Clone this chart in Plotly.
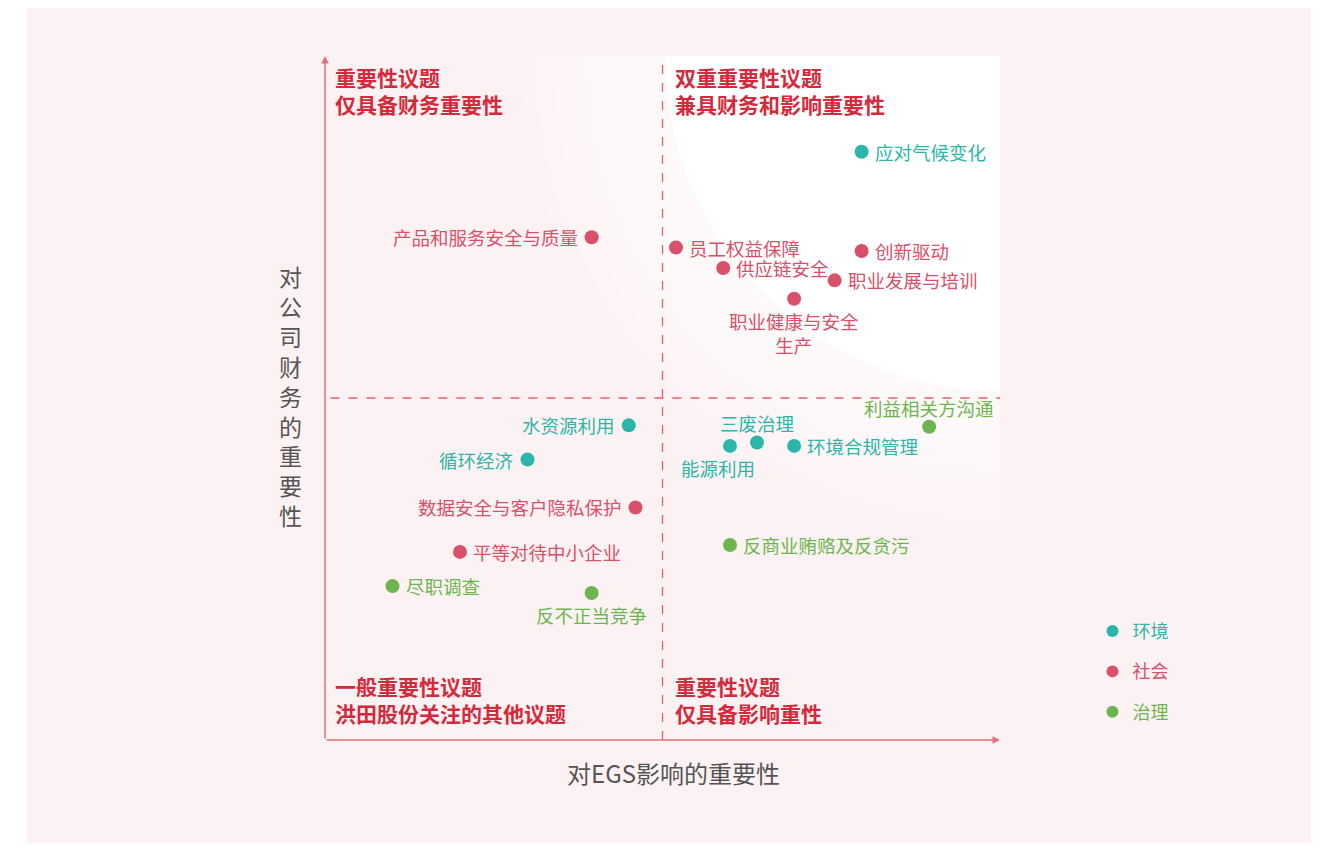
import plotly.graph_objects as go

FONT = "Noto Sans CJK SC"

# ---- data ----
env_names = ["应对气候变化", "三废治理", "能源利用", "环境合规管理", "水资源利用", "循环经济"]
env_x = [7.95, 6.4, 6.0, 6.95, 4.5, 3.0]
env_y = [8.6, 4.35, 4.3, 4.3, 4.6, 4.1]
env_pos = ["right", "top", "bottom", "right", "left", "left"]

soc_names = ["产品和服务安全与质量", "员工权益保障", "创新驱动", "供应链安全", "职业发展与培训",
             "职业健康与安全<br>生产", "数据安全与客户隐私保护", "平等对待中小企业"]
soc_x = [3.95, 5.2, 7.95, 5.9, 7.55, 6.95, 4.6, 2.0]
soc_y = [7.35, 7.2, 7.15, 6.9, 6.72, 6.45, 3.4, 2.75]
soc_pos = ["left", "right", "right", "right", "right", "bottom", "left", "right"]

gov_names = ["利益相关方沟通", "反商业贿赂及反贪污", "尽职调查", "反不正当竞争"]
gov_x = [8.95, 6.0, 1.0, 3.95]
gov_y = [4.58, 2.85, 2.25, 2.15]
gov_pos = ["top", "right", "right", "bottom"]

series = [
    ("环境", env_names, env_x, env_y, env_pos, "#2ab7a9"),
    ("社会", soc_names, soc_x, soc_y, soc_pos, "#d9506a"),
    ("治理", gov_names, gov_x, gov_y, gov_pos, "#6db64f"),
]

quad_titles = [
    ("重要性议题<br>仅具备财务重要性", 0.012, 0.994),
    ("双重重要性议题<br>兼具财务和影响重要性", 0.5156, 0.994),
    ("一般重要性议题<br>洪田股份关注的其他议题", 0.012, 0.1038),
    ("重要性议题<br>仅具备影响重性", 0.5156, 0.1038),
]

x_title = "对EGS影响的重要性"
y_title = "对公司财务的重要性"

X_MAX, Y_MAX, MID = 10, 10, 5

# label placement styles (anchor, xshift, yshift)
LABEL_STYLE = {
    "right": dict(xanchor="left", yanchor="middle", xshift=11, yshift=0),
    "left": dict(xanchor="right", yanchor="middle", xshift=-12, yshift=0),
    "bottom": dict(xanchor="center", yanchor="top", xshift=0, yshift=-7),
    "top": dict(xanchor="center", yanchor="bottom", xshift=0, yshift=4),
}
LABEL_NUDGE_X = {"能源利用": -12}

fig = go.Figure()
annotations = []

for name, names, xs, ys, pos, col in series:
    fig.add_trace(go.Scatter(
        x=xs, y=ys, mode="markers",
        name=f"<span style='color:{col}'>{name}</span>",
        legendgroup=name,
        marker=dict(size=14, color=col),
        cliponaxis=False, hoverinfo="skip",
    ))
    for t, xv, yv, p in zip(names, xs, ys, pos):
        st = dict(LABEL_STYLE[p])
        st["xshift"] += LABEL_NUDGE_X.get(t, 0)
        annotations.append(dict(text=t, x=xv, y=yv, xref="x", yref="y", showarrow=False,
                                align="center", font=dict(family=FONT, size=18.5, color=col),
                                **st))

shapes = []
# pink page background
shapes.append(dict(type="rect", xref="paper", yref="paper", x0=-0.4415, x1=1.4607,
                   y0=-0.2, y1=1.0716, fillcolor="#fdf2f3", line=dict(width=0), layer="below"))
# soft white radial glow from top-right corner
rx_px, ry_px = 67.5, 68.4
n = 9
for i in range(n, 0, -1):
    r = 335 + i * (145 / n)
    shapes.append(dict(type="circle", xref="x", yref="y",
                       x0=X_MAX - r / rx_px, x1=X_MAX + r / rx_px,
                       y0=Y_MAX - r / ry_px, y1=Y_MAX + r / ry_px,
                       fillcolor="rgba(255,255,255,0.13)", line=dict(width=0), layer="below"))
shapes.append(dict(type="circle", xref="x", yref="y",
                   x0=X_MAX - 335 / rx_px, x1=X_MAX + 335 / rx_px,
                   y0=Y_MAX - 335 / ry_px, y1=Y_MAX + 335 / ry_px,
                   fillcolor="#ffffff", line=dict(width=0), layer="below"))
# dashed mid lines
shapes.append(dict(type="line", xref="x", yref="y", x0=MID, x1=MID, y0=0, y1=Y_MAX,
                   line=dict(color="#e5606e", width=1.3, dash="dash")))
shapes.append(dict(type="line", xref="x", yref="y", x0=0.08, x1=X_MAX, y0=MID, y1=MID,
                   line=dict(color="#e5606e", width=1.3, dash="dash")))

# axis arrows
annotations.append(dict(x=0, y=Y_MAX, ax=0, ay=0, xref="x", yref="y", axref="x", ayref="y",
                        showarrow=True, arrowhead=2, arrowsize=1, arrowwidth=1.5,
                        arrowcolor="#e2707c", text=""))
annotations.append(dict(x=X_MAX, y=0, ax=0, ay=0, xref="x", yref="y", axref="x", ayref="y",
                        showarrow=True, arrowhead=2, arrowsize=1, arrowwidth=1.5,
                        arrowcolor="#e2707c", text=""))
for txt, xp, yp in quad_titles:
    annotations.append(dict(text=f"<b>{txt}</b>", x=xp, y=yp, xref="paper", yref="paper",
                            xanchor="left", yanchor="top", align="left", showarrow=False,
                            font=dict(family=FONT, size=21, color="#d42a3c")))
annotations.append(dict(text=x_title, x=0.517, y=-0.047, xref="paper", yref="paper",
                        xanchor="center", yanchor="middle", showarrow=False,
                        font=dict(family=FONT, size=24, color="#555555")))
annotations.append(dict(text="<br>".join(list(y_title)), x=-0.0504, y=0.503,
                        xref="paper", yref="paper", xanchor="center", yanchor="middle",
                        showarrow=False, font=dict(family=FONT, size=23, color="#555555")))

fig.update_layout(
    width=1309, height=835,
    margin=dict(l=317, r=317, t=48, b=103),
    paper_bgcolor="#ffffff", plot_bgcolor="rgba(0,0,0,0)",
    shapes=shapes, annotations=annotations,
    xaxis=dict(range=[0, X_MAX], showgrid=False, zeroline=False, showticklabels=False,
               showline=False, fixedrange=True),
    yaxis=dict(range=[0, Y_MAX], showgrid=False, zeroline=False, showticklabels=False,
               showline=False, fixedrange=True),
    showlegend=True,
    legend=dict(x=1.137, y=0.186, xanchor="left", yanchor="top", bgcolor="rgba(0,0,0,0)",
                font=dict(family=FONT, size=18), tracegroupgap=14, itemsizing="constant"),
    font=dict(family=FONT),
)

fig.write_html("out.html")
